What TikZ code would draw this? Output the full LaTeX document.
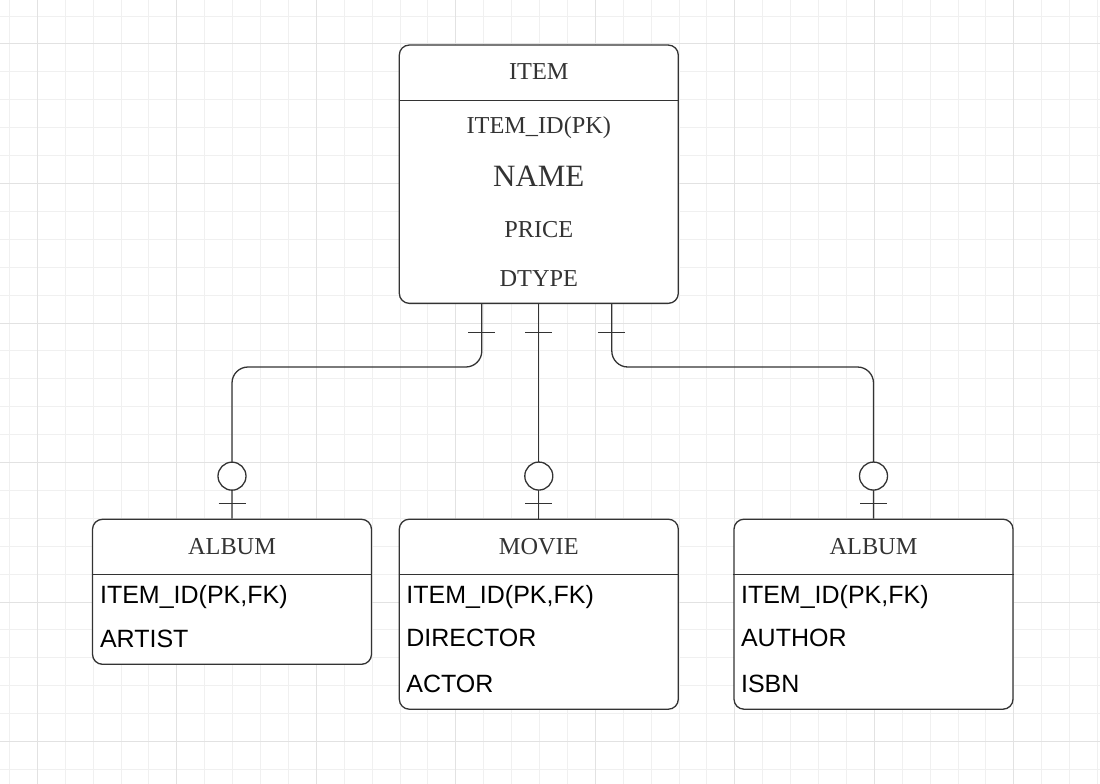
\documentclass[tikz,border=0pt]{standalone}
\usepackage{fontspec}
\setmainfont{Liberation Serif}
\setsansfont{Liberation Sans}
\usetikzlibrary{calc}
\definecolor{edgegray}{HTML}{333333}
\definecolor{minorline}{HTML}{F0F0F0}
\definecolor{majorline}{HTML}{E2E2E2}
\tikzset{
  entity/.style={draw=edgegray, fill=white, line width=1.3pt, rounded corners=10pt, minimum width=279pt, inner sep=0pt},
  title/.style={anchor=base, inner sep=0pt, text=edgegray, font=\fontsize{24.3}{28}\selectfont},
  field/.style={anchor=base west, inner sep=0pt, font=\sffamily\fontsize{25}{28}\selectfont},
  rel/.style={draw=edgegray, line width=1.3pt},
  minorgrid/.style={draw=minorline, line width=1pt},
  majorgrid/.style={draw=majorline, line width=1pt},
}

\begin{document}
\begin{tikzpicture}[x=1pt,y=-1pt]
    % Canvas
    \fill[white] (0,0) rectangle (1100,784);
    \useasboundingbox (0,0) rectangle (1100,784);
    % Grid
    \foreach \i in {0,...,39} \draw[minorgrid] ({9.4+27.9*\i},0) -- ++(0,784);
    \foreach \j in {0,...,27} \draw[minorgrid] (0,{16.1+27.9*\j}) -- ++(1100,0);
    \foreach \i in {0,...,7} \draw[majorgrid] ({37.3+139.5*\i},0) -- ++(0,784);
    \foreach \j in {0,...,5} \draw[majorgrid] (0,{44+139.5*\j}) -- ++(1100,0);

    % Entities
    \node[entity, minimum height=258.3pt] (item) at (538.8,174.2) {};
    \node[entity, minimum height=145pt] (album) at (232,591.8) {};
    \node[entity, minimum height=190pt] (movie) at (538.8,614.2) {};
    \node[entity, minimum height=190pt] (book) at (873.5,614.2) {};

    % Header rules
    \foreach \e in {item,album,movie,book}
        \draw[rel] ($(\e.north west)+(0,56)$) -- ($(\e.north east)+(0,56)$);

    % ITEM
    \node[title] (item-title) at ($(item.north)+(0,35.5)$) {ITEM};
    \node[title] (item-id) at ($(item.north)+(0,89)$) {ITEM\_ID(PK)};
    \node[title, font=\fontsize{31}{36}\selectfont] (item-name) at ($(item.north)+(0,142.5)$) {NAME};
    \node[title] (item-price) at ($(item.north)+(0,193)$) {PRICE};
    \node[title] (item-dtype) at ($(item.north)+(0,242)$) {DTYPE};

    % ALBUM
    \node[title] (album-title) at ($(album.north)+(0,36.2)$) {ALBUM};
    \node[field] (album-id) at ($(album.north west)+(8,85)$) {ITEM\_ID(PK,FK)};
    \node[field] (album-artist) at ($(album.north west)+(8,128.4)$) {ARTIST};

    % MOVIE
    \node[title] (movie-title) at ($(movie.north)+(0,36.2)$) {MOVIE};
    \node[field] (movie-id) at ($(movie.north west)+(7.5,85)$) {ITEM\_ID(PK,FK)};
    \node[field] (movie-director) at ($(movie.north west)+(7.5,128.4)$) {DIRECTOR};
    \node[field] (movie-actor) at ($(movie.north west)+(7.5,174)$) {ACTOR};

    % second ALBUM (book)
    \node[title] (book-title) at ($(book.north)+(0,36.2)$) {ALBUM};
    \node[field] (book-id) at ($(book.north west)+(7.5,85)$) {ITEM\_ID(PK,FK)};
    \node[field] (book-author) at ($(book.north west)+(7.5,128.4)$) {AUTHOR};
    \node[field] (book-isbn) at ($(book.north west)+(7.5,174)$) {ISBN};

    % Relations
    \coordinate (itemL) at ($(item.south)+(-57,0)$);
    \coordinate (itemM) at (item.south);
    \coordinate (itemR) at ($(item.south)+(73,0)$);
    \draw[rel, rounded corners=16pt] (itemL) -- ++(0,63) -| (album.north);
    \draw[rel] (itemM) -- (movie.north);
    \draw[rel, rounded corners=16pt] (itemR) -- ++(0,63) -| (book.north);

    % one-and-only-one / zero-or-one marks
    \foreach \p/\c in {itemL/album, itemM/movie, itemR/book} {
        \draw[rel] ($(\p)+(-13.5,28.5)$) -- ++(27,0);
        \draw[rel] ($(\c.north)+(-13.5,-15)$) -- ++(27,0);
        \draw[rel, fill=white] ($(\c.north)+(0,-42.5)$) circle (14);
    }
\end{tikzpicture}
\end{document}
